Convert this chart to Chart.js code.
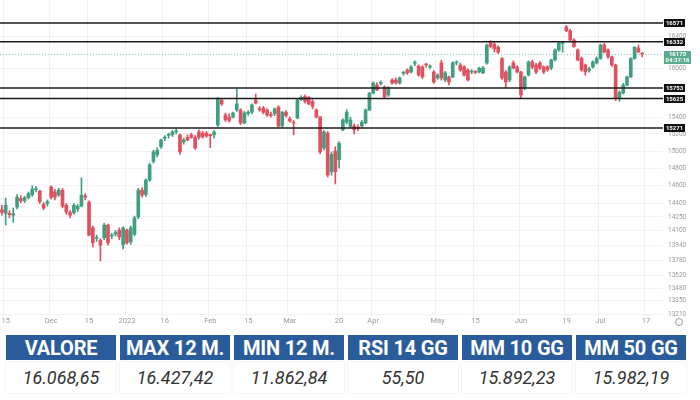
<!DOCTYPE html>
<html>
<head>
<meta charset="utf-8">
<script src="https://cdn.jsdelivr.net/npm/chart.js@4.4.0/dist/chart.umd.min.js"></script>
<style>
  html, body { margin: 0; padding: 0; background: #fff; width: 700px; height: 400px; overflow: hidden; }
  body { font-family: Roboto, "Open Sans", sans-serif; position: relative; }
  #wrap { position: absolute; left: 0; top: 0; width: 700px; height: 327px; }
  #stats { position: absolute; left: 6px; top: 335px; display: grid; grid-template-columns: repeat(6, 110px); column-gap: 4px; row-gap: 2px; }
  .hd { background: #2a5c9c; color: #fff; font-weight: 700; font-size: 20px; height: 25px; line-height: 26px; text-align: center; letter-spacing: -0.2px; }
  .val { height: 31px; line-height: 31px; text-align: center; font-style: italic; font-size: 18px; color: #333; background: #fff; box-shadow: 0 0 2px rgba(0,0,0,0.12); }
</style>
</head>
<body>
<div id="wrap"><canvas id="candles" width="700" height="327"></canvas></div>
<div id="stats"></div>

<script>
// ── Data (daily candles, index 0 = first bar on the left) ─────
const openP = [
  14330,14290,14290,14270,14360,14455,14430,14465,14500,14555,
  14540,14390,14400,14585,14530,14495,14550,14380,14300,14295,
  14340,14370,14485,14415,14130,14015,13995,14020,14160,14040,
  14060,14105,13945,14105,13975,14060,14250,14550,14500,14665,
  14880,14955,15050,15150,15185,15190,15225,15190,15110,15160,
  15190,15160,15225,15210,15210,15190,15190,15307,15607,15426,
  15400,15400,15486,15486,15331,15445,15460,15607,15500,15510,
  15486,15430,15440,15520,15295,15460,15380,15340,15390,15610,
  15650,15640,15590,15486,15402,15035,15210,14760,15000,14900,
  15250,15340,15290,15295,15280,15295,15331,15486,15692,15790,
  15810,15766,15668,15852,15852,15815,15935,15976,15951,16060,
  16026,16013,16040,16013,15951,15878,16064,15852,15890,15890,
  16064,16038,16013,15976,15951,15951,15951,15939,16064,16320,
  16300,16260,16120,15951,15852,16064,16013,15951,15754,15913,
  16076,16038,16064,16013,16013,16000,16101,16227,16310,16520,
  16470,16353,16227,16120,16038,15970,16013,16064,16120,16289,
  16227,16140,16038,15630,15692,15790,15890,16120,16252,16180
];
const highP = [
  14380,14460,14320,14350,14500,14490,14480,14530,14600,14590,
  14550,14410,14440,14600,14560,14570,14570,14400,14320,14400,
  14390,14690,14510,14430,14150,14050,14010,14180,14170,14070,
  14100,14130,14140,14120,14150,14260,14570,14580,14680,14860,
  15010,15040,15140,15180,15210,15240,15260,15200,15150,15190,
  15210,15180,15250,15230,15230,15200,15240,15640,15620,15450,
  15440,15460,15740,15500,15470,15480,15560,15680,15530,15530,
  15500,15460,15510,15540,15470,15480,15400,15360,15620,15660,
  15670,15650,15610,15500,15410,15240,15230,14990,15050,15110,
  15380,15490,15400,15320,15310,15360,15500,15700,15830,15820,
  15840,15780,15770,15870,15880,15890,15960,15990,16030,16090,
  16040,16030,16060,16040,15970,15930,16100,15960,15900,16080,
  16090,16060,16030,15990,15980,15970,16010,16020,16300,16345,
  16320,16280,16130,15970,16030,16090,16030,15960,15900,16090,
  16100,16060,16080,16030,16030,16110,16240,16320,16330,16540,
  16490,16370,16240,16140,16050,16010,16090,16140,16300,16310,
  16240,16150,16050,15720,15810,15900,16130,16270,16290,16190
];
const lowP = [
  14270,14160,14240,14190,14340,14410,14410,14450,14480,14530,
  14400,14330,14370,14450,14440,14480,14350,14280,14240,14280,
  14310,14360,14440,14040,13920,13980,13770,14000,13940,14010,
  14040,14000,13900,13950,13950,14040,14230,14470,14480,14650,
  14860,14930,15030,15120,15150,15170,15200,14960,15080,15120,
  15150,15020,15140,15150,15160,15040,15150,15290,15540,15350,
  15340,15390,15470,15310,15320,15420,15440,15560,15470,15440,
  15410,15400,15420,15280,15280,15400,15340,15190,15380,15600,
  15570,15550,15500,15390,14970,15010,14700,14720,14620,14800,
  15240,15320,15270,15200,15240,15280,15320,15480,15680,15720,
  15790,15630,15650,15800,15800,15800,15910,15920,15940,16030,
  15900,15870,16010,15990,15810,15860,15850,15830,15790,15880,
  16040,15960,15900,15840,15930,15930,15940,15930,16050,16250,
  16200,16180,15860,15760,15830,15990,15940,15630,15730,15900,
  15990,15930,15980,15930,15960,15980,16090,16210,16200,16460,
  16340,16260,16090,15960,15910,15950,16000,16050,16110,16190,
  16120,16020,15600,15590,15680,15780,15880,16110,16190,16140
];
const closeP = [
  14300,14380,14275,14285,14470,14430,14465,14510,14560,14560,
  14420,14350,14420,14470,14470,14550,14370,14305,14270,14380,
  14370,14495,14470,14050,13965,14025,13940,14160,13965,14050,
  14080,14030,14130,13965,14130,14240,14550,14495,14665,14840,
  14990,15010,15130,15160,15195,15225,15230,14990,15130,15130,
  15160,15035,15160,15170,15175,15180,15225,15620,15560,15367,
  15360,15450,15560,15331,15450,15450,15547,15570,15490,15460,
  15426,15420,15500,15295,15460,15420,15355,15330,15607,15640,
  15590,15560,15530,15402,14990,15225,14722,14960,14760,15090,
  15367,15460,15367,15250,15270,15340,15486,15692,15815,15729,
  15815,15644,15754,15815,15815,15878,15940,15939,16013,16064,
  15913,15890,16038,16020,15827,15913,15878,15939,15827,16064,
  16070,15976,15913,15852,15955,15945,16000,16000,16289,16270,
  16240,16200,15878,15827,16013,16000,15951,15668,15890,16076,
  16013,15951,16000,15951,15976,16101,16227,16314,16320,16470,
  16353,16270,16101,15976,15951,15990,16076,16120,16289,16200,
  16140,16038,15630,15700,15790,15890,16120,16260,16200,16175
];

// time axis: empty slots on the right, labels at given bars
const slotCount = 175;
const timeTickAt   = [1, 13, 23, 33, 43, 55, 65, 76, 89, 98, 115, 125, 137, 149, 158, 170];
const timeTickText = ['15','Dec','15','2023','16','Feb','15','Mar','20','Apr','May','15','Jun','19','Jul','17'];

// price axis
const priceTicks = [16400,16000,15400,15200,15000,14800,14600,14400,14250,14100,13940,13780,13620,13480,13350,13210];
const priceMin = 13193;
const priceMax = 16870;
const levels = [16571, 16332, 15753, 15625, 15271];
const lastPrice = 16175;
const countdown = '04:37:16';

// stats table
const statHeads  = ['VALORE', 'MAX 12 M.', 'MIN 12 M.', 'RSI 14 GG', 'MM 10 GG', 'MM 50 GG'];
const statValues = ['16.068,65', '16.427,42', '11.862,84', '55,50', '15.892,23', '15.982,19'];

// ── Colours ───────────────────────────────────────────────────
const UP = '#3f9f7f';
const DOWN = '#e0505f';

// ── Build table ───────────────────────────────────────────────
document.getElementById('stats').innerHTML =
  statHeads.map(h => `<div class="hd">${h}</div>`).join('') +
  statValues.map(v => `<div class="val">${v}</div>`).join('');

// ── Chart ─────────────────────────────────────────────────────
const labels = Array.from({ length: slotCount }, () => '');
timeTickAt.forEach((i, k) => { labels[i] = timeTickText[k]; });

const candleColors = closeP.map((c, i) => c >= openP[i] ? UP : DOWN);
const wicks = lowP.map((l, i) => [l, highP[i]]);
const bodies = openP.map((o, i) => [Math.min(o, closeP[i]), Math.max(o, closeP[i])]);

function drawTag(ctx, x, yc, w, h, bg, lines) {
  ctx.fillStyle = bg;
  ctx.fillRect(x, Math.round(yc - h / 2), w, h);
  ctx.fillStyle = '#fff';
  ctx.textAlign = 'center';
  ctx.textBaseline = 'middle';
  ctx.font = 'bold 6px Roboto, sans-serif';
  const step = h / lines.length;
  lines.forEach((t, k) => ctx.fillText(t, x + w / 2, yc - h / 2 + step * (k + 0.5) + 0.5));
}

const overlay = {
  id: 'overlay',
  afterDatasetsDraw(chart) {
    const { ctx, chartArea: a, scales: { y } } = chart;
    ctx.save();
    const py = Math.round(y.getPixelForValue(lastPrice)) + 0.5;
    ctx.strokeStyle = 'rgba(63,159,127,0.6)';
    ctx.lineWidth = 1;
    ctx.setLineDash([1, 2]);
    ctx.beginPath(); ctx.moveTo(a.left, py); ctx.lineTo(a.right, py); ctx.stroke();
    ctx.setLineDash([]);
    ctx.strokeStyle = '#1c1c1c';
    ctx.lineWidth = 1.5;
    levels.forEach(v => {
      const ly = y.getPixelForValue(v);
      ctx.beginPath(); ctx.moveTo(a.left, ly); ctx.lineTo(a.right, ly); ctx.stroke();
    });
    ctx.restore();
  },
  afterDraw(chart) {
    const { ctx, chartArea: a, scales: { y } } = chart;
    ctx.save();
    levels.forEach(v => drawTag(ctx, a.right + 1, y.getPixelForValue(v), 21, 8, '#111', [String(v)]));
    drawTag(ctx, a.right + 1, y.getPixelForValue(lastPrice) + 3, 27, 13, '#5aab8a', [String(lastPrice), countdown]);
    // settings icon on the axis corner
    ctx.strokeStyle = '#9a9a9a';
    ctx.lineWidth = 1;
    ctx.beginPath(); ctx.arc(679, 322, 3.5, 0, Math.PI * 2); ctx.stroke();
    ctx.restore();
  }
};

new Chart(document.getElementById('candles'), {
  type: 'bar',
  data: {
    labels,
    datasets: [
      { data: wicks, backgroundColor: candleColors, barThickness: 1, grouped: false, order: 2 },
      { data: bodies, backgroundColor: candleColors, barThickness: 3, grouped: false, order: 1, minBarLength: 1 }
    ]
  },
  options: {
    responsive: false,
    animation: false,
    layout: { padding: 0 },
    plugins: { legend: { display: false }, tooltip: { enabled: false } },
    scales: {
      x: {
        border: { display: false },
        grid: { drawTicks: false, color: c => (labels[c.index] ? '#f0f0f0' : 'rgba(0,0,0,0)') },
        ticks: {
          autoSkip: false, maxRotation: 0, padding: 1,
          color: '#9a9a9a', font: { size: 7.5, family: 'Roboto, sans-serif' },
          callback: (v, i) => labels[i]
        }
      },
      y: {
        type: 'logarithmic',
        position: 'right',
        min: priceMin,
        max: priceMax,
        border: { display: false },
        grid: { drawTicks: false, color: '#f2f2f2' },
        afterBuildTicks: s => { s.ticks = priceTicks.map(v => ({ value: v })); },
        afterFit: s => { s.width = 37; s.paddingTop = 0; s.paddingBottom = 0; },
        ticks: {
          padding: 5, color: '#9a9a9a', font: { size: 6.5, family: 'Roboto, sans-serif' },
          callback: v => String(v)
        }
      }
    }
  },
  plugins: [overlay]
});
</script>
</body>
</html>
